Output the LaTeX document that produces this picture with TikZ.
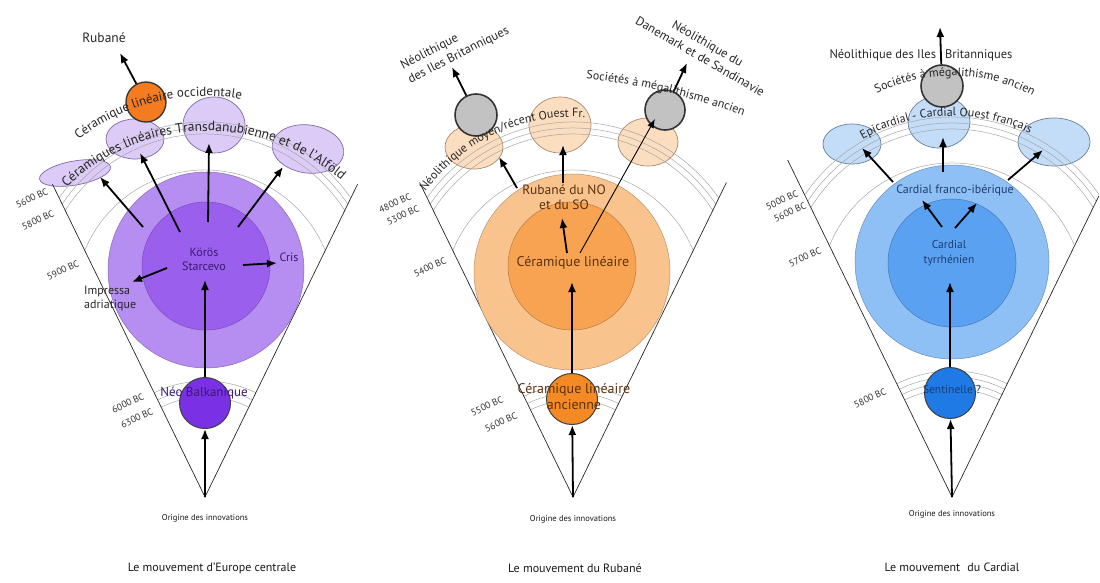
\documentclass[tikz,border=0pt]{standalone}
\usepackage{fontspec}
\setmainfont{PT Sans}
\usetikzlibrary{arrows.meta,shapes.geometric,decorations.text,calc}
\definecolor{lavL}{HTML}{DCCBF7}
\definecolor{lavE}{HTML}{7F6AA8}
\definecolor{purO}{HTML}{B68DF1}
\definecolor{purI}{HTML}{9A5FEC}
\definecolor{purS}{HTML}{7A30E4}
\definecolor{purD}{HTML}{3A1A6E}
\definecolor{orgS}{HTML}{F47B20}
\definecolor{peach}{HTML}{FBDDBF}
\definecolor{peachE}{HTML}{A88C70}
\definecolor{orO}{HTML}{F9C38D}
\definecolor{orI}{HTML}{F7A352}
\definecolor{orS}{HTML}{F48A24}
\definecolor{orD}{HTML}{5A3210}
\definecolor{grayC}{HTML}{C2C2C2}
\definecolor{blE}{HTML}{C3DCF8}
\definecolor{blEE}{HTML}{687F98}
\definecolor{blO}{HTML}{8EBFF5}
\definecolor{blI}{HTML}{5AA2F1}
\definecolor{blS}{HTML}{1F7AE6}
\definecolor{blD}{HTML}{1D3D70}
\newcommand\curvfont{\fontsize{12}{12}\selectfont}
\newcommand\curvfontB{\fontsize{13}{13}\selectfont}
\newcommand\curvfontC{\fontsize{13.5}{13.5}\selectfont}
\begin{document}
\begin{tikzpicture}[x=1pt,y=-1pt,
  arr/.style={line width=1.8pt,-{Latex[length=10pt,width=8pt]}},
  thinarr/.style={line width=0.9pt,-{Latex[length=9pt,width=7pt]}},
  coneedge/.style={line width=0.7pt,black!85},
  datearc/.style={black!35,line width=0.5pt},
  lbl/.style={font=\fontsize{12}{14}\selectfont,text=black!85,inner sep=0pt},
  datelbl/.style={font=\fontsize{9.5}{10}\selectfont,rotate=25,inner sep=0pt,text=black!80},
  ttl/.style={font=\fontsize{12}{13}\selectfont,inner sep=0pt,text=black!90},
  orig/.style={font=\fontsize{8.5}{10}\selectfont,inner sep=0pt,text=black!90},
  ellL/.style={ellipse,draw=lavE,fill=lavL,line width=0.7pt,inner sep=0pt},
  ellM/.style={ellipse,draw=peachE,fill=peach,line width=0.7pt,inner sep=0pt},
  ellR/.style={ellipse,draw=blEE,fill=blE,line width=0.7pt,inner sep=0pt},
  bigc/.style={circle,inner sep=0pt,line width=0.5pt},
  smallc/.style={circle,inner sep=0pt,draw=black!75,line width=1pt,minimum size=51pt},
  grayc/.style={circle,inner sep=0pt,draw=black!80,fill=grayC,line width=1.6pt,minimum size=42pt},
  curv/.style={decorate,decoration={text along path,text align=center,text color=black!85,text={|\curvfont|#1}}},
  curvB/.style={decorate,decoration={text along path,text align=center,text color=black!85,text={|\curvfontB|#1}}},
  curvC/.style={decorate,decoration={text along path,text align=center,text color=black!85,text={|\curvfontC|#1}}}
]
\useasboundingbox (0,0) rectangle (1100,583);
\clip (0,0) rectangle (1100,583);

%================ LEFT PANEL =================
\coordinate (aL) at (205,497);
\coordinate (lL) at ($(aL)+(-116:348)$);
\coordinate (rL) at ($(aL)+(-64:348)$);
\node[ellL,minimum width=72pt,minimum height=24pt,rotate=10] (eL1) at (75,173) {};
\node[ellL,minimum width=58pt,minimum height=40pt] (eL2) at (135,139) {};
\node[ellL,minimum width=62pt,minimum height=56pt] (eL3) at (214,125) {};
\node[ellL,minimum width=72pt,minimum height=48pt,rotate=-8] (eL4) at (308,149) {};
\begin{scope}
\clip (aL) -- ($(aL)+(-116:700)$) -- ($(aL)+(-64:700)$) -- cycle;
\foreach \r in {166,172,178,130}
  \draw[datearc] ($(205,300)+(-170:\r)$) arc[start angle=-170,end angle=-10,radius=\r];
\foreach \r in {100,108,116}
  \draw[datearc] ($(aL)+(-150:\r)$) arc[start angle=-150,end angle=-30,radius=\r];
\end{scope}
\draw[coneedge] (lL) -- (aL) -- (rL);
\node[bigc,fill=purO,draw=purO!75!black,minimum size=196pt] (oL) at (206,270) {};
\node[bigc,fill=purI,draw=purI!80!black,minimum size=128pt] (iL) at (206,266) {};
\node[smallc,fill=purS] (sL) at (205,403) {};
\node[circle,inner sep=0pt,fill=orgS,draw=black!80,line width=1.3pt,minimum size=40pt] (cL) at (146,102) {};
% arrows
\coordinate (tL1) at (143,227); \coordinate (hL1) at (100,177);
\coordinate (tL2) at (180,232); \coordinate (hL2) at (140,153);
\coordinate (tL3) at (208,222); \coordinate (hL3) at (209,143);
\coordinate (tL4) at (238,227); \coordinate (hL4) at (283,167);
\coordinate (tLc) at (243,265); \coordinate (hLc) at (277,263);
\coordinate (tLi) at (167,268); \coordinate (hLi) at (132,282);
\coordinate (hLk) at (205,280);
\coordinate (hRub) at (120,53);
\draw[arr] (tL1) -- (hL1);
\draw[arr] (tL2) -- (hL2);
\draw[arr] (tL3) -- (hL3);
\draw[arr] (tL4) -- (hL4);
\draw[arr] (tLc) -- (hLc);
\draw[arr] (tLi) -- (hLi);
\draw[arr] (sL) -- (hLk);
\draw[arr] (aL) -- (sL);
\draw[arr] (cL) -- (hRub);
% texts
\path[curvC={Céramiques linéaires Transdanubienne et de l'Alföld}] ($(208,336)+(-175:205)$) arc[start angle=-175,end angle=-8,radius=205];
\path[curvB={Céramique linéaire occidentale}] ($(205,300)+(-160:204)$) arc[start angle=-160,end angle=-48,radius=204];
\node[lbl,font=\fontsize{13.5}{15}\selectfont] (tRub) at (104,38) {Rubané};
\node[lbl,text=purD,align=center] (tKor) at (204,259) {Körös\\Starcevo};
\node[lbl,text=purD] (tCris) at (289,257) {Cris};
\node[lbl,align=left,anchor=west] (tImp) at (84,298) {Impressa\\adriatique};
\node[lbl,text=purD,font=\fontsize{13}{15}\selectfont] (tNeoB) at (204,393) {Néo Balkanique};
\node[datelbl] (dL1) at (32,198) {5600 BC};
\node[datelbl] (dL2) at (38,220) {5800 BC};
\node[datelbl] (dL3) at (63,270) {5900 BC};
\node[datelbl] (dL4) at (128,403) {6000 BC};
\node[datelbl] (dL5) at (137,418) {6300 BC};
\node[orig] (oriL) at (205,518) {Origine des innovations};
\node[ttl] (ttlL) at (212,568) {Le mouvement d'Europe centrale};

%================ MIDDLE PANEL =================
\coordinate (aM) at (573,497);
\coordinate (lM) at ($(aM)+(-116:350)$);
\coordinate (rM) at ($(aM)+(-64:350)$);
\node[ellM,minimum width=58pt,minimum height=44pt] (eM1) at (474,147) {};
\node[ellM,minimum width=62pt,minimum height=56pt] (eM2) at (560,125) {};
\node[ellM,minimum width=60pt,minimum height=48pt] (eM3) at (648,142) {};
\begin{scope}
\clip (aM) -- ($(aM)+(-116:700)$) -- ($(aM)+(-64:700)$) -- cycle;
\foreach \r in {166,172,178,130}
  \draw[datearc] ($(573,300)+(-170:\r)$) arc[start angle=-170,end angle=-10,radius=\r];
\foreach \r in {97,104,112}
  \draw[datearc] ($(aM)+(-150:\r)$) arc[start angle=-150,end angle=-30,radius=\r];
\end{scope}
\draw[coneedge] (lM) -- (aM) -- (rM);
\node[bigc,fill=orO,draw=orO!75!black,minimum size=196pt] (oM) at (572,272) {};
\node[bigc,fill=orI,draw=orI!75!black,minimum size=128pt] (iM) at (572,266) {};
\node[smallc,fill=orS] (sM) at (572,399) {};
\node[grayc] (gM1) at (476,115) {};
\node[grayc,minimum size=40pt] (gM2) at (665,110) {};
\coordinate (tM1) at (517,188); \coordinate (hM1) at (499,157);
\coordinate (tM2) at (563,183); \coordinate (hM2) at (563,145);
\coordinate (tM3) at (580,253); \coordinate (hM3) at (655,119);
\coordinate (tM4) at (567,253); \coordinate (hM4) at (562,218);
\coordinate (hMk) at (572,282);
\coordinate (hMg1) at (452,67);
\coordinate (hMg2) at (687,63);
\draw[arr] (tM1) -- (hM1);
\draw[arr] (tM2) -- (hM2);
\draw[thinarr] (tM3) -- (hM3);
\draw[arr] (tM4) -- (hM4);
\draw[arr] (sM) -- (hMk);
\draw[arr] (aM) -- (sM);
\draw[arr] (gM1) -- (hMg1);
\draw[arr] (gM2) -- (hMg2);
\path[curv={Néolithique moyen/récent  Ouest Fr.}] ($(573,300)+(-175:183)$) arc[start angle=-175,end angle=-55,radius=183];
\path[curv={Sociétés à mégalithisme ancien}] ($(520,700)+(-95:625)$) arc[start angle=-95,end angle=-58,radius=625];
\node[lbl,align=left,rotate=27,font=\fontsize{12.5}{16}\selectfont] (tNIB) at (455,48) {Néolithique\\des Iles Britanniques};
\node[lbl,align=center,rotate=-30,font=\fontsize{12.5}{15}\selectfont] (tNDS) at (704,50) {Néolithique du\\Danemark et de Sandinavie};
\node[lbl,text=orD,align=center,font=\fontsize{13.5}{15}\selectfont] (tRNO) at (564,197) {Rubané du NO\\et du SO};
\node[lbl,text=orD,font=\fontsize{14}{15}\selectfont] (tCL) at (573,263) {Céramique linéaire};
\node[lbl,text=orD,align=center,font=\fontsize{14}{16}\selectfont] (tCLA) at (574,397) {Céramique linéaire\\ancienne};
\node[datelbl] (dM1) at (395,203) {4800 BC};
\node[datelbl] (dM2) at (403,215) {5300 BC};
\node[datelbl] (dM3) at (430,267) {5400 BC};
\node[datelbl] (dM4) at (487,406) {5500 BC};
\node[datelbl] (dM5) at (501,422) {5600 BC};
\node[orig] (oriM) at (573,519) {Origine des innovations};
\node[ttl] (ttlM) at (575,568) {Le mouvement du Rubané};

%================ RIGHT PANEL =================
\coordinate (aR) at (952,497);
\coordinate (lR) at ($(aR)+(-116:375)$);
\coordinate (rR) at ($(aR)+(-64:335)$);
\node[ellR,minimum width=58pt,minimum height=40pt] (eR1) at (852,144) {};
\node[ellR,minimum width=62pt,minimum height=52pt] (eR2) at (939,122) {};
\node[ellR,minimum width=72pt,minimum height=48pt] (eR3) at (1054,142) {};
\begin{scope}
\clip (aR) -- ($(aR)+(-116:700)$) -- ($(aR)+(-64:700)$) -- cycle;
\foreach \r in {166,172,178,132}
  \draw[datearc] ($(952,295)+(-170:\r)$) arc[start angle=-170,end angle=-10,radius=\r];
\foreach \r in {108,114,120,126}
  \draw[datearc] ($(aR)+(-150:\r)$) arc[start angle=-150,end angle=-30,radius=\r];
\end{scope}
\draw[coneedge] (lR) -- (aR) -- (rR);
\node[bigc,fill=blO,draw=blO!75!black,minimum size=194pt] (oR) at (952,262) {};
\node[bigc,fill=blI,draw=blI!75!black,minimum size=128pt] (iR) at (952,263) {};
\node[smallc,fill=blS] (sR) at (950,393) {};
\node[grayc] (gR) at (942,86) {};
\coordinate (tR1) at (893,182); \coordinate (hR1) at (862,148);
\coordinate (tR2) at (943,172); \coordinate (hR2) at (943,137);
\coordinate (tR3) at (1008,180); \coordinate (hR3) at (1043,150);
\coordinate (tR4) at (942,227); \coordinate (hR4) at (922,200);
\coordinate (tR5) at (955,228); \coordinate (hR5) at (977,203);
\coordinate (hRk) at (950,282);
\coordinate (hRg) at (940,27);
\draw[arr] (tR1) -- (hR1);
\draw[arr] (tR2) -- (hR2);
\draw[arr] (tR3) -- (hR3);
\draw[arr] (tR4) -- (hR4);
\draw[arr] (tR5) -- (hR5);
\draw[arr] (sR) -- (hRk);
\draw[arr] (aR) -- (sR);
\draw[arr] (gR) -- (hRg);
\path[curv={Sociétés à mégalithisme ancien}] ($(952,250)+(-154:174)$) arc[start angle=-154,end angle=-24,radius=174];
\path[curv={Epicardial - Cardial Ouest français}] ($(952,300)+(-157:184)$) arc[start angle=-157,end angle=-27,radius=184];
\node[lbl,font=\fontsize{12.5}{14}\selectfont] (tNIB2) at (921,55) {Néolithique des Iles\hspace{9pt}Britanniques};
\node[lbl,text=blD] (tCFI) at (955,190) {Cardial franco-ibérique};
\node[lbl,text=blD,align=center,font=\fontsize{11.5}{15}\selectfont] (tCT) at (949,253) {Cardial\\tyrrhénien};
\node[lbl,text=blD,font=\fontsize{11.5}{14}\selectfont] (tSen) at (952,389) {Sentinelle ?};
\node[datelbl] (dR1) at (782,200) {5000 BC};
\node[datelbl] (dR2) at (790,212) {5600 BC};
\node[datelbl] (dR3) at (805,257) {5700 BC};
\node[datelbl] (dR4) at (870,398) {5800 BC};
\node[orig] (oriR) at (952,514) {Origine des innovations};
\node[ttl] (ttlR) at (952,567) {Le mouvement\hspace{4pt} du Cardial};
\end{tikzpicture}
\end{document}
